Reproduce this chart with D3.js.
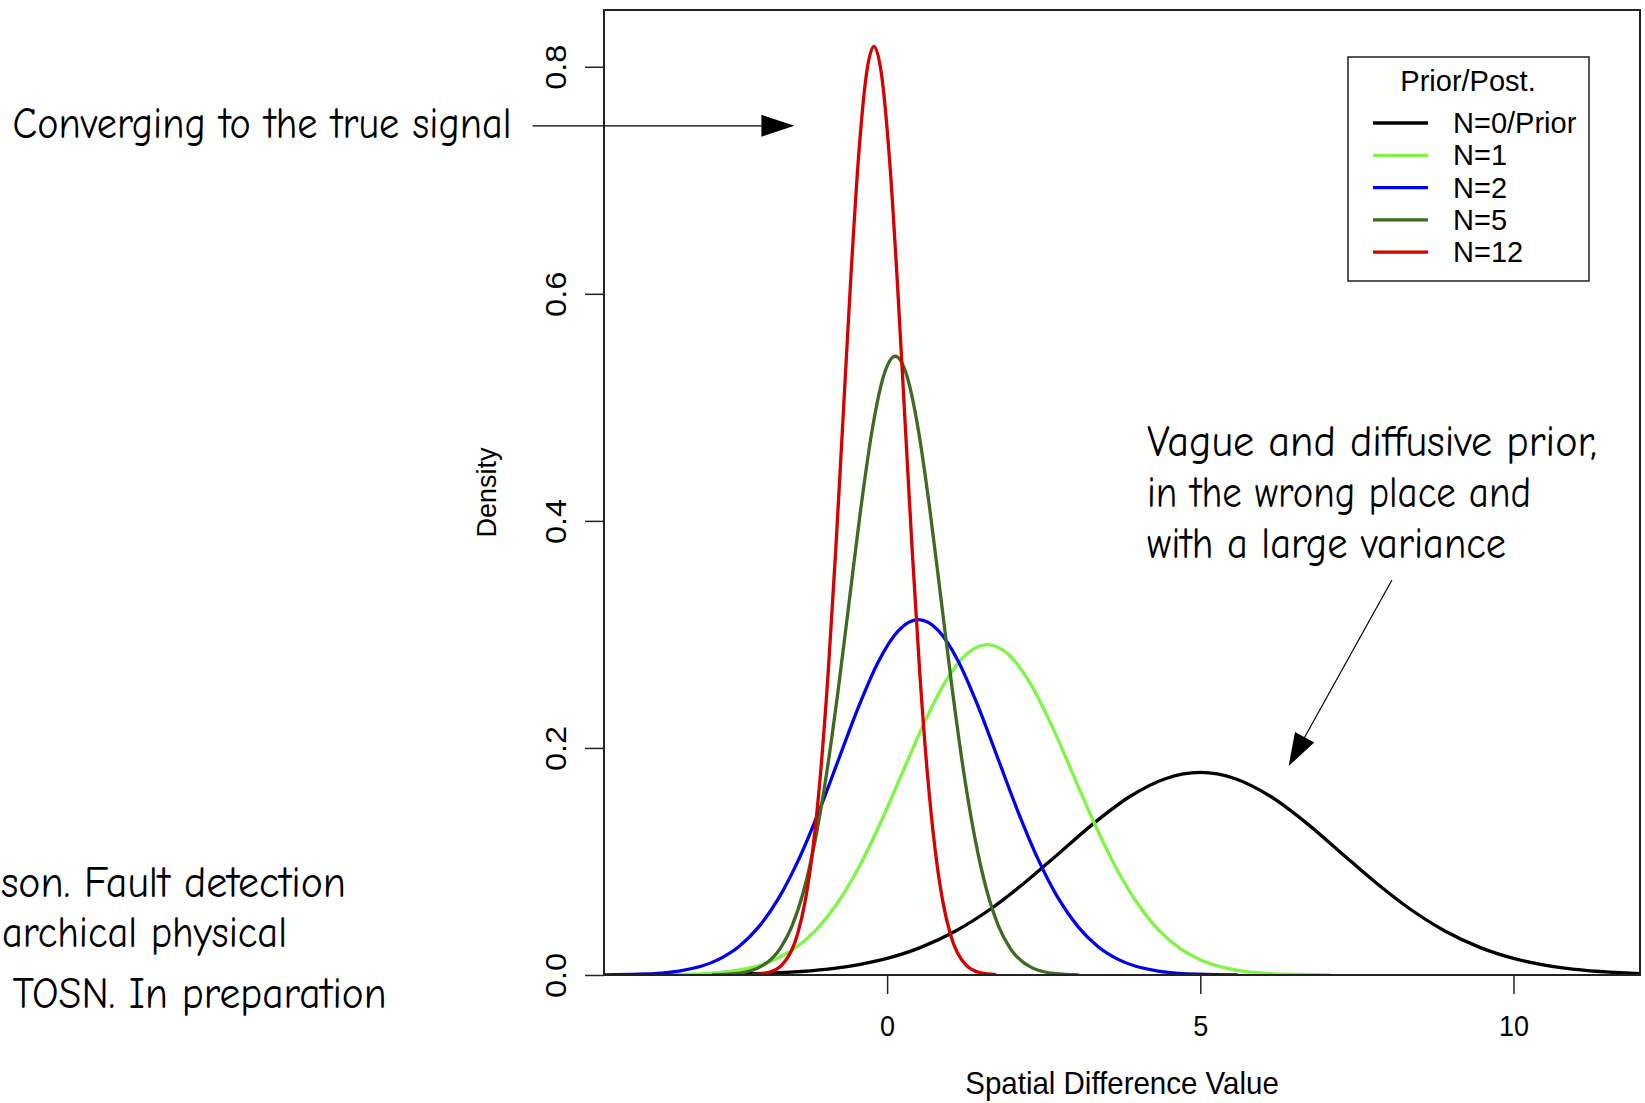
<!DOCTYPE html>
<html>
<head>
<meta charset="utf-8">
<script src="https://cdn.jsdelivr.net/npm/d3@7"></script>
<style>
  body { margin: 0; background: #fff; }
  svg { display: block; }
</style>
</head>
<body>
<svg id="chart" width="1645" height="1103"></svg>
<script>
// density curves, [x, density]
var densityN0 = [[-3.944,0.00006],[-2.826,0.00039],[-1.708,0.00198],[-0.590,0.00784],[-0.031,0.01419],[0.528,0.02414],[1.087,0.03858],[1.646,0.05792],[2.205,0.08168],[2.764,0.10821],[3.323,0.13466],[3.882,0.15744],[4.441,0.17291],[5.0,0.1784],[5.559,0.17291],[6.118,0.15744],[6.677,0.13466],[7.236,0.10821],[7.795,0.08168],[8.354,0.05792],[8.913,0.03858],[9.472,0.02414],[10.031,0.01419],[10.590,0.00784],[11.708,0.00198],[12.826,0.00039],[13.944,0.00006]];
var densityN1 = [[-3.88,0.0001],[-3.195,0.00064],[-2.51,0.00323],[-1.825,0.01279],[-1.483,0.02315],[-1.14,0.03938],[-0.798,0.06293],[-0.455,0.09447],[-0.113,0.13323],[0.23,0.1765],[0.573,0.21966],[0.915,0.25681],[1.258,0.28205],[1.6,0.291],[1.943,0.28205],[2.285,0.25681],[2.628,0.21966],[2.97,0.1765],[3.313,0.13323],[3.655,0.09447],[3.998,0.06293],[4.34,0.03938],[4.683,0.02315],[5.025,0.01279],[5.71,0.00323],[6.395,0.00064],[7.08,0.0001]];
var densityN2 = [[-4.6,0.00011],[-3.963,0.00069],[-3.325,0.00348],[-2.688,0.01375],[-2.369,0.0249],[-2.05,0.04236],[-1.731,0.06769],[-1.413,0.10162],[-1.094,0.1433],[-0.775,0.18984],[-0.456,0.23626],[-0.138,0.27622],[0.181,0.30337],[0.5,0.313],[0.819,0.30337],[1.138,0.27622],[1.456,0.23626],[1.775,0.18984],[2.094,0.1433],[2.413,0.10162],[2.731,0.06769],[3.05,0.04236],[3.369,0.0249],[3.688,0.01375],[4.325,0.00348],[4.963,0.00069],[5.6,0.00011]];
var densityN5 = [[-2.798,0.00019],[-2.432,0.00119],[-2.066,0.00605],[-1.7,0.02395],[-1.517,0.04336],[-1.334,0.07376],[-1.151,0.11787],[-0.968,0.17693],[-0.785,0.24952],[-0.602,0.33056],[-0.419,0.41139],[-0.236,0.48096],[-0.053,0.52823],[0.13,0.545],[0.313,0.52823],[0.496,0.48096],[0.679,0.41139],[0.862,0.33056],[1.045,0.24952],[1.228,0.17693],[1.411,0.11787],[1.594,0.07376],[1.777,0.04336],[1.96,0.02395],[2.326,0.00605],[2.692,0.00119],[3.058,0.00019]];
var densityN12 = [[-2.162,0.00028],[-1.918,0.00179],[-1.674,0.00909],[-1.43,0.03594],[-1.308,0.06508],[-1.186,0.11071],[-1.064,0.17691],[-0.942,0.26556],[-0.82,0.37451],[-0.698,0.49614],[-0.576,0.61746],[-0.454,0.72189],[-0.332,0.79283],[-0.21,0.818],[-0.088,0.79283],[0.034,0.72189],[0.156,0.61746],[0.278,0.49614],[0.4,0.37451],[0.522,0.26556],[0.644,0.17691],[0.766,0.11071],[0.888,0.06508],[1.01,0.03594],[1.254,0.00909],[1.498,0.00179],[1.742,0.00028]];

var legendLabels = ["N=0/Prior", "N=1", "N=2", "N=5", "N=12"];
var xTicks = [0, 5, 10];
var yTicks = [0.0, 0.2, 0.4, 0.6, 0.8];

var series = [densityN0, densityN1, densityN2, densityN5, densityN12];
var colors = ["#000000", "#7ff545", "#0000f0", "#3d6b22", "#d60000"];

var svg = d3.select("#chart");
var plotLeft = 604, plotRight = 1640, plotTop = 10, plotBottom = 975;
var rFont = "'Liberation Sans', Arial, Helvetica, sans-serif";
var cFont = "'Comic Sans MS', 'Comic Neue', 'Noto Sans', sans-serif";

var x = d3.scaleLinear().domain([-4.52, 12.02]).range([plotLeft, plotRight]);
var y = d3.scaleLinear().domain([0, 0.85]).range([plotBottom, plotTop]);

svg.append("defs").append("clipPath").attr("id", "plotclip")
  .append("rect").attr("x", plotLeft).attr("y", plotTop)
  .attr("width", plotRight - plotLeft).attr("height", plotBottom - plotTop);

var line = d3.line()
  .x(function(d) { return x(d[0]); })
  .y(function(d) { return y(d[1]); })
  .curve(d3.curveMonotoneX);

svg.append("g").attr("clip-path", "url(#plotclip)")
  .selectAll("path")
  .data(series)
  .enter().append("path")
    .attr("d", line)
    .attr("fill", "none")
    .attr("stroke", function(d, i) { return colors[i]; })
    .attr("stroke-width", 3.3)
    .attr("stroke-linejoin", "round");

// box
svg.append("rect")
  .attr("x", plotLeft).attr("y", plotTop)
  .attr("width", plotRight - plotLeft).attr("height", plotBottom - plotTop)
  .attr("fill", "none").attr("stroke", "#222").attr("stroke-width", 2);

// y axis
var yAxis = svg.append("g")
  .attr("transform", "translate(" + plotLeft + ",0)")
  .call(d3.axisLeft(y).tickValues(yTicks).tickSize(19).tickPadding(0)
    .tickFormat(d3.format(".1f")));
yAxis.select(".domain").remove();
yAxis.selectAll(".tick line").attr("stroke", "#222").attr("stroke-width", 1.5);
yAxis.selectAll(".tick text")
  .attr("x", null).attr("dy", null)
  .attr("transform", "translate(-38,0) rotate(-90) scale(1.12,1)")
  .attr("text-anchor", "middle")
  .attr("font-family", rFont).attr("font-size", 29).attr("fill", "#000");

// x axis
var xAxis = svg.append("g")
  .attr("transform", "translate(0," + plotBottom + ")")
  .call(d3.axisBottom(x).tickValues(xTicks).tickSize(19).tickPadding(0));
xAxis.select(".domain").remove();
xAxis.selectAll(".tick line").attr("stroke", "#222").attr("stroke-width", 1.5);
xAxis.selectAll(".tick text")
  .attr("y", 0).attr("dy", null)
  .attr("transform", "translate(0,61) scale(1,1.1)")
  .attr("font-family", rFont).attr("font-size", 27).attr("fill", "#000");

svg.append("text")
  .attr("transform", "translate(" + (plotLeft + plotRight) / 2 + ",1094) scale(1,1.06)")
  .attr("text-anchor", "middle")
  .attr("font-family", rFont).attr("font-size", 29.5)
  .text("Spatial Difference Value");

svg.append("text")
  .attr("transform", "translate(496," + (plotTop + plotBottom) / 2 + ") rotate(-90)")
  .attr("text-anchor", "middle")
  .attr("font-family", rFont).attr("font-size", 27)
  .text("Density");

// legend
var lg = svg.append("g");
lg.append("rect")
  .attr("x", 1348).attr("y", 57).attr("width", 241).attr("height", 224)
  .attr("fill", "#fff").attr("stroke", "#222").attr("stroke-width", 1.5);
lg.append("text")
  .attr("x", 1468).attr("y", 91)
  .attr("text-anchor", "middle")
  .attr("font-family", rFont).attr("font-size", 29)
  .text("Prior/Post.");
var item = lg.selectAll("g.item")
  .data(legendLabels)
  .enter().append("g")
    .attr("transform", function(d, i) { return "translate(0," + (123 + i * 32.3) + ")"; });
item.append("line")
  .attr("x1", 1373).attr("x2", 1428)
  .attr("stroke", function(d, i) { return colors[i]; })
  .attr("stroke-width", 3.3);
item.append("text")
  .attr("x", 1453).attr("y", 10)
  .attr("font-family", rFont).attr("font-size", 29)
  .text(function(d) { return d; });

// annotations
var notes = [
  { text: "Converging to the true signal", x: 12.6, y: 138, w: 499 },
  { text: "Vague and diffusive prior,", x: 1147, y: 456, w: 450 },
  { text: "in the wrong place and", x: 1147, y: 507, w: 384 },
  { text: "with a large variance", x: 1147, y: 558, w: 359 },
  { text: "son. Fault detection", x: 1, y: 897, w: 345 },
  { text: "archical physical", x: 2, y: 947, w: 285 },
  { text: "TOSN. In preparation", x: 12.6, y: 1008, w: 374 }
];
svg.selectAll("text.note")
  .data(notes)
  .enter().append("text")
    .attr("class", "note")
    .attr("x", function(d) { return d.x; })
    .attr("y", function(d) { return d.y; })
    .attr("textLength", function(d) { return d.w; })
    .attr("lengthAdjust", "spacingAndGlyphs")
    .attr("font-family", cFont).attr("font-size", 45)
    .text(function(d) { return d.text; });

// arrows, in data units
var arrows = [
  { x1: -5.66, y1: 0.748, x2: -1.48, y2: 0.748 },
  { x1: 8.06, y1: 0.348, x2: 6.41, y2: 0.184 }
];
arrows.forEach(function(a) {
  var px1 = x(a.x1), py1 = y(a.y1), px2 = x(a.x2), py2 = y(a.y2);
  var ang = Math.atan2(py2 - py1, px2 - px1);
  var hl = 33, hw = 11;
  var bx = px2 - hl * Math.cos(ang), by = py2 - hl * Math.sin(ang);
  svg.append("line")
    .attr("x1", px1).attr("y1", py1).attr("x2", bx).attr("y2", by)
    .attr("stroke", "#000").attr("stroke-width", 1.2);
  svg.append("path")
    .attr("d", "M" + px2 + "," + py2
      + "L" + (bx + hw * Math.sin(ang)) + "," + (by - hw * Math.cos(ang))
      + "L" + (bx - hw * Math.sin(ang)) + "," + (by + hw * Math.cos(ang)) + "Z")
    .attr("fill", "#000");
});
</script>
</body>
</html>
